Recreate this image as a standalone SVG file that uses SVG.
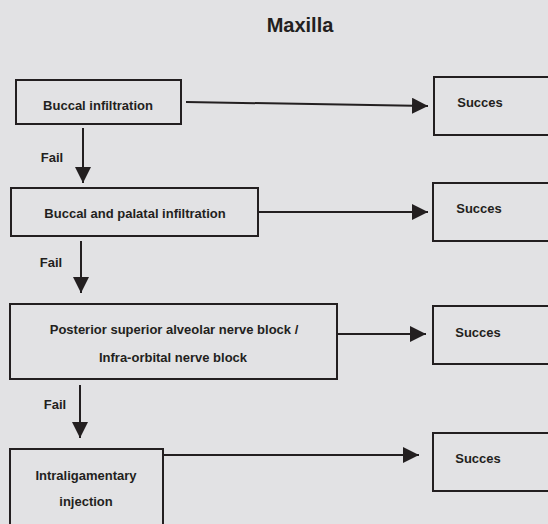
<svg xmlns="http://www.w3.org/2000/svg" width="548" height="524" viewBox="0 0 548 524">
<defs>
<style>
.box{fill:none;stroke:#231f20;stroke-width:2}
.ln{fill:none;stroke:#231f20;stroke-width:2}
.t{font-family:"Liberation Sans",Arial,sans-serif;font-weight:bold;font-size:13px;fill:#231f20;text-anchor:middle}
.title{font-family:"Liberation Sans",Arial,sans-serif;font-weight:bold;font-size:20px;fill:#231f20;text-anchor:middle}
</style>
<marker id="ah" viewBox="0 0 16 16" refX="16" refY="8" markerWidth="16" markerHeight="16" markerUnits="userSpaceOnUse" orient="auto">
<path d="M0,0 L16,8 L0,16 Z" fill="#231f20"/>
</marker>
</defs>
<rect width="548" height="524" fill="#e2e2e4"/>
<text class="title" x="300" y="32">Maxilla</text>
<g id="connectors">
<line class="ln" x1="186" y1="102" x2="428" y2="106" marker-end="url(#ah)"/>
<line class="ln" x1="83" y1="128" x2="83" y2="183" marker-end="url(#ah)"/>
<line class="ln" x1="258" y1="212" x2="428" y2="212" marker-end="url(#ah)"/>
<line class="ln" x1="81" y1="241" x2="81" y2="293" marker-end="url(#ah)"/>
<line class="ln" x1="337" y1="334" x2="426" y2="334" marker-end="url(#ah)"/>
<line class="ln" x1="80" y1="385" x2="80" y2="438" marker-end="url(#ah)"/>
<line class="ln" x1="163" y1="455" x2="419" y2="455" marker-end="url(#ah)"/>
<text class="t" x="52" y="162">Fail</text>
<text class="t" x="51" y="267">Fail</text>
<text class="t" x="55" y="409">Fail</text>
</g>
<g id="n1"><rect class="box" x="16" y="80" width="165" height="44"/><text class="t" x="98" y="109.5">Buccal infiltration</text></g>
<g id="s1"><rect class="box" x="434" y="77" width="120" height="58"/><text class="t" x="480" y="107">Succes</text></g>
<g id="n2"><rect class="box" x="11" y="188" width="247" height="48"/><text class="t" x="135" y="217.5">Buccal and palatal infiltration</text></g>
<g id="s2"><rect class="box" x="433" y="183" width="120" height="58"/><text class="t" x="479" y="212.5">Succes</text></g>
<g id="n3"><rect class="box" x="10" y="304" width="327" height="75"/><text class="t" x="174" y="333.5">Posterior superior alveolar nerve block /</text><text class="t" x="173" y="361.5">Infra-orbital nerve block</text></g>
<g id="s3"><rect class="box" x="433" y="306" width="120" height="58"/><text class="t" x="478" y="336.5">Succes</text></g>
<g id="n4"><rect class="box" x="10" y="449" width="153" height="90"/><text class="t" x="86" y="479.5">Intraligamentary</text><text class="t" x="86" y="505.5">injection</text></g>
<g id="s4"><rect class="box" x="433" y="433" width="120" height="58"/><text class="t" x="478" y="462.5">Succes</text></g>
</svg>
